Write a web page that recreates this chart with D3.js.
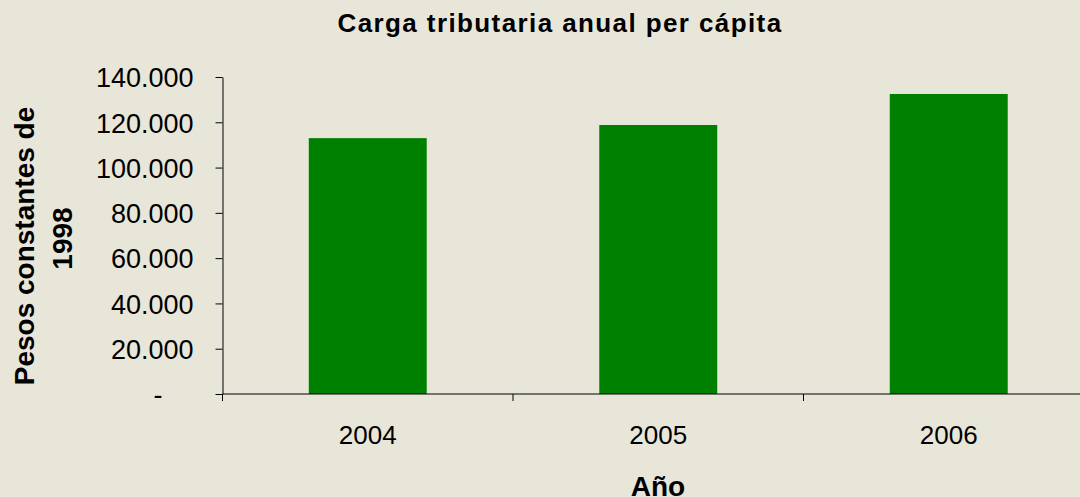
<!DOCTYPE html>
<html>
<head>
<meta charset="utf-8">
<script src="https://cdn.jsdelivr.net/npm/d3@7"></script>
<style>
  body { margin: 0; background: #e8e6d9; overflow: hidden; }
  text { font-family: "Liberation Sans", Arial, sans-serif; fill: #000; }
</style>
</head>
<body>
<div id="chart"></div>
<script>

// data
const years = ["2004", "2005", "2006", "2007"]
const shownYears = ["2004", "2005", "2006"]
const carga = [113000, 118800, 132500]
const yTicks = [0, 20000, 40000, 60000, 80000, 100000, 120000, 140000]

const width = 1080,
      height = 497

const svg = d3.select("#chart")
              .append("svg")
              .attr("width", width)
              .attr("height", height)

svg.append("rect")
   .attr("width", width)
   .attr("height", height)
   .attr("fill", "#e8e6d9")

// plot area (continues past right edge, as in the original)
const plotLeft = 222.5, plotTop = 77, plotBottom = 394

const x = d3.scaleBand()
            .domain(years)
            .range([plotLeft, plotLeft + 290.5 * years.length])
            .paddingInner(0.594)
            .paddingOuter(0.297)

const y = d3.scaleLinear()
            .domain([0, 140000])
            .range([plotBottom, plotTop])

const fmt = d => d === 0 ? "-" : d3.format(",")(d).replace(/,/g, ".")

// bars
svg.append("g")
   .selectAll("rect")
   .data(shownYears)
   .join("rect")
     .attr("x", d => x(d))
     .attr("y", (d, i) => y(carga[i]))
     .attr("width", x.bandwidth())
     .attr("height", (d, i) => plotBottom - y(carga[i]))
     .attr("fill", "#008000")

// y axis
const yAxis = svg.append("g")
   .attr("transform", `translate(${plotLeft},0)`)
   .call(d3.axisLeft(y).tickValues(yTicks).tickFormat(fmt).tickSize(7).tickSizeOuter(0).tickPadding(22))
yAxis.select(".domain").attr("stroke", "#000").attr("stroke-width", 1)
yAxis.selectAll(".tick line").attr("stroke", "#000")
yAxis.selectAll("text")
   .style("font-size", "27px")
   .attr("dy", "0.36em")
   .attr("dx", d => d === 0 ? -31 : 0)

// x axis
const xLine = svg.append("g")
   .attr("transform", `translate(0,${plotBottom})`)
xLine.append("line")
   .attr("x1", plotLeft).attr("x2", width)
   .attr("stroke", "#000")
xLine.selectAll(".tk")
   .data(years)
   .join("line")
     .attr("class", "tk")
     .attr("x1", d => x(d) - x.step() * 0.297)
     .attr("x2", d => x(d) - x.step() * 0.297)
     .attr("y1", 0).attr("y2", 7)
     .attr("stroke", "#000")
xLine.selectAll("text")
   .data(shownYears)
   .join("text")
     .attr("x", d => x(d) + x.bandwidth() / 2)
     .attr("y", 50)
     .attr("text-anchor", "middle")
     .style("font-size", "26px")
     .text(d => d)

// title
svg.append("text")
   .attr("x", 560)
   .attr("y", 32)
   .attr("text-anchor", "middle")
   .style("font-size", "26px")
   .style("font-weight", "bold")
   .style("letter-spacing", "1.4px")
   .text("Carga tributaria anual per cápita")

// axis titles
svg.append("text")
   .attr("x", 658)
   .attr("y", 496)
   .attr("text-anchor", "middle")
   .style("font-size", "28px")
   .style("font-weight", "bold")
   .text("Año")

const yTitle = svg.append("g")
   .attr("transform", "rotate(-90)")
   .attr("text-anchor", "middle")
   .style("font-size", "28px")
   .style("font-weight", "bold")
yTitle.append("text").attr("x", -246).attr("y", 34).text("Pesos constantes de")
yTitle.append("text").attr("x", -238.5).attr("y", 72).text("1998")

</script>
</body>
</html>
